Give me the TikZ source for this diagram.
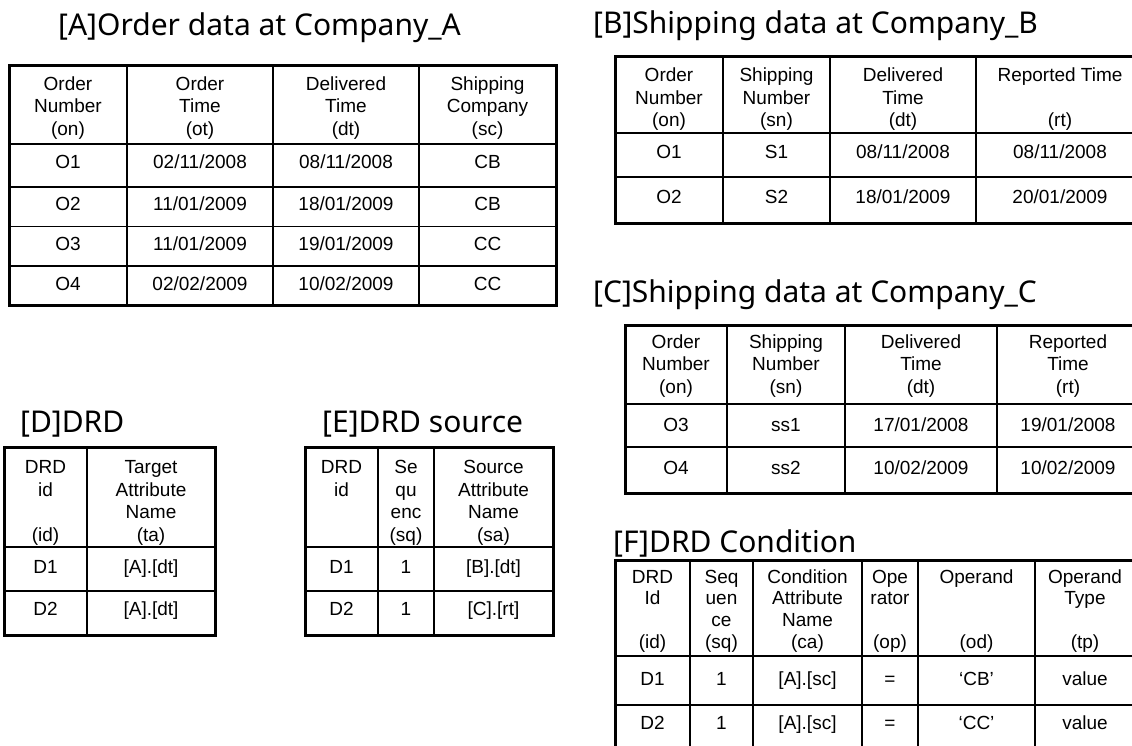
\documentclass[tikz,border=0pt]{standalone}
\usepackage{fontspec}
\setmainfont{Liberation Sans}
\newfontfamily\ttlfont{Noto Sans}
\tikzset{
  cell/.style={font=\fontsize{19}{22.5}\selectfont, align=center, inner sep=0pt, anchor=center, yshift=-2.3pt},
  fcell/.style={cell, font=\fontsize{19}{21.7}\selectfont},
  ttl/.style={font=\ttlfont\fontsize{30}{36}\selectfont, anchor=base west, inner sep=0pt},
  outerline/.style={line width=3pt},
  innerline/.style={line width=1.1pt},
}
\begin{document}
\begin{tikzpicture}[x=1pt,y=-1pt]
\useasboundingbox (0,0) rectangle (1132,746);
\fill[white] (0,0) rectangle (1132,746);
\clip (0,0) rectangle (1132,746);

% ---------- titles ----------
\node[ttl] (tA) at (58,35.5) {[A]Order data at Company\_A};
\node[ttl] (tB) at (593,33.5) {[B]Shipping data at Company\_B};
\node[ttl] (tC) at (593,302) {[C]Shipping data at Company\_C};
\node[ttl] (tD) at (20,432) {[D]DRD};
\node[ttl] (tE) at (322,432) {[E]DRD source};
\node[ttl] (tF) at (613,552) {[F]DRD Condition};

% ---------- table A ----------
\foreach \x in {127,273,419} \draw[innerline] (\x,66) -- (\x,305);
\foreach \y in {144,187,226.5,266} \draw[innerline] (9,\y) -- (556,\y);
\draw[outerline] (9,66) rectangle (556,305);
\node[cell] (A-h1) at (68,106) {\strut Order\\\strut Number\\\strut (on)};
\node[cell] (A-h2) at (200,106) {\strut Order\\\strut Time\\\strut (ot)};
\node[cell] (A-h3) at (346,106) {\strut Delivered\\\strut Time\\\strut (dt)};
\node[cell] (A-h4) at (487.5,106) {\strut Shipping\\\strut Company\\\strut (sc)};
\node[cell] (A-11) at (68,162) {\strut O1};
\node[cell] (A-12) at (200,162) {\strut 02/11/2008};
\node[cell] (A-13) at (346,162) {\strut 08/11/2008};
\node[cell] (A-14) at (487.5,162) {\strut CB};
\node[cell] (A-21) at (68,204) {\strut O2};
\node[cell] (A-22) at (200,204) {\strut 11/01/2009};
\node[cell] (A-23) at (346,204) {\strut 18/01/2009};
\node[cell] (A-24) at (487.5,204) {\strut CB};
\node[cell] (A-31) at (68,243.5) {\strut O3};
\node[cell] (A-32) at (200,243.5) {\strut 11/01/2009};
\node[cell] (A-33) at (346,243.5) {\strut 19/01/2009};
\node[cell] (A-34) at (487.5,243.5) {\strut CC};
\node[cell] (A-41) at (68,283.5) {\strut O4};
\node[cell] (A-42) at (200,283.5) {\strut 02/02/2009};
\node[cell] (A-43) at (346,283.5) {\strut 10/02/2009};
\node[cell] (A-44) at (487.5,283.5) {\strut CC};

% ---------- table B ----------
\foreach \x in {723,830,976} \draw[innerline] (\x,57) -- (\x,223);
\foreach \y in {133,177} \draw[innerline] (615,\y) -- (1144,\y);
\draw[outerline] (615,57) rectangle (1144,223);
\node[cell] (B-h1) at (669,97.5) {\strut Order\\\strut Number\\\strut (on)};
\node[cell] (B-h2) at (776.5,97.5) {\strut Shipping\\\strut Number\\\strut (sn)};
\node[cell] (B-h3) at (903,97.5) {\strut Delivered\\\strut Time\\\strut (dt)};
\node[cell] (B-h4) at (1060,97.5) {\strut Reported Time\\\strut\\\strut (rt)};
\node[cell] (B-11) at (669,152) {\strut O1};
\node[cell] (B-12) at (776.5,152) {\strut S1};
\node[cell] (B-13) at (903,152) {\strut 08/11/2008};
\node[cell] (B-14) at (1060,152) {\strut 08/11/2008};
\node[cell] (B-21) at (669,197) {\strut O2};
\node[cell] (B-22) at (776.5,197) {\strut S2};
\node[cell] (B-23) at (903,197) {\strut 18/01/2009};
\node[cell] (B-24) at (1060,197) {\strut 20/01/2009};

% ---------- table C ----------
\foreach \x in {727,845,997} \draw[innerline] (\x,325) -- (\x,493);
\foreach \y in {404,447} \draw[innerline] (625,\y) -- (1145,\y);
\draw[outerline] (625,325) rectangle (1145,493);
\node[cell] (C-h1) at (676,364) {\strut Order\\\strut Number\\\strut (on)};
\node[cell] (C-h2) at (786,364) {\strut Shipping\\\strut Number\\\strut (sn)};
\node[cell] (C-h3) at (921,364) {\strut Delivered\\\strut Time\\\strut (dt)};
\node[cell] (C-h4) at (1068,364) {\strut Reported\\\strut Time\\\strut (rt)};
\node[cell] (C-11) at (676,425) {\strut O3};
\node[cell] (C-12) at (786,425) {\strut ss1};
\node[cell] (C-13) at (921,425) {\strut 17/01/2008};
\node[cell] (C-14) at (1068,425) {\strut 19/01/2008};
\node[cell] (C-21) at (676,468) {\strut O4};
\node[cell] (C-22) at (786,468) {\strut ss2};
\node[cell] (C-23) at (921,468) {\strut 10/02/2009};
\node[cell] (C-24) at (1068,468) {\strut 10/02/2009};

% ---------- table D ----------
\draw[innerline] (87,447) -- (87,635);
\foreach \y in {547,591} \draw[innerline] (4,\y) -- (215,\y);
\draw[outerline] (4,447) rectangle (215,635);
\node[cell] (D-h1) at (45.5,500.75) {\strut DRD\\\strut id\\\strut\\\strut (id)};
\node[cell] (D-h2) at (151,500.75) {\strut Target\\\strut Attribute\\\strut Name\\\strut (ta)};
\node[cell] (D-11) at (45.5,567) {\strut D1};
\node[cell] (D-12) at (151,567) {\strut [A].[dt]};
\node[cell] (D-21) at (45.5,609) {\strut D2};
\node[cell] (D-22) at (151,609) {\strut [A].[dt]};

% ---------- table E ----------
\foreach \x in {378,434} \draw[innerline] (\x,447) -- (\x,635);
\foreach \y in {547,591} \draw[innerline] (305,\y) -- (553,\y);
\draw[outerline] (305,447) rectangle (553,635);
\node[cell] (E-h1) at (341.5,500.75) {\strut DRD\\\strut id\\\strut\\\strut};
\node[cell] (E-h2) at (406,500.75) {\strut Se\\\strut qu\\\strut enc\\\strut (sq)};
\node[cell] (E-h3) at (493.5,500.75) {\strut Source\\\strut Attribute\\\strut Name\\\strut (sa)};
\node[cell] (E-11) at (341.5,567) {\strut D1};
\node[cell] (E-12) at (406,567) {\strut 1};
\node[cell] (E-13) at (493.5,567) {\strut [B].[dt]};
\node[cell] (E-21) at (341.5,609) {\strut D2};
\node[cell] (E-22) at (406,609) {\strut 1};
\node[cell] (E-23) at (493.5,609) {\strut [C].[rt]};

% ---------- table F ----------
\foreach \x in {690,753,862,918,1035} \draw[innerline] (\x,560) -- (\x,755);
\foreach \y in {656,705} \draw[innerline] (615,\y) -- (1140,\y);
\draw[outerline] (615,560) rectangle (1140,755);
\node[fcell] (F-h1) at (652.5,609) {\strut DRD\\\strut Id\\\strut\\\strut (id)};
\node[fcell] (F-h2) at (721.5,609) {\strut Seq\\\strut uen\\\strut ce\\\strut (sq)};
\node[fcell] (F-h3) at (807.5,609) {\strut Condition\\\strut Attribute\\\strut Name\\\strut (ca)};
\node[fcell] (F-h4) at (890,609) {\strut Ope\\\strut rator\\\strut\\\strut (op)};
\node[fcell] (F-h5) at (976.5,609) {\strut Operand\\\strut\\\strut\\\strut (od)};
\node[fcell] (F-h6) at (1085,609) {\strut Operand\\\strut Type\\\strut\\\strut (tp)};
\node[fcell] (F-11) at (652.5,679) {\strut D1};
\node[fcell] (F-12) at (721.5,679) {\strut 1};
\node[fcell] (F-13) at (807.5,679) {\strut [A].[sc]};
\node[fcell] (F-14) at (890,679) {\strut =};
\node[fcell] (F-15) at (976.5,679) {\strut ‘CB’};
\node[fcell] (F-16) at (1085,679) {\strut value};
\node[fcell] (F-21) at (652.5,723) {\strut D2};
\node[fcell] (F-22) at (721.5,723) {\strut 1};
\node[fcell] (F-23) at (807.5,723) {\strut [A].[sc]};
\node[fcell] (F-24) at (890,723) {\strut =};
\node[fcell] (F-25) at (976.5,723) {\strut ‘CC’};
\node[fcell] (F-26) at (1085,723) {\strut value};
\end{tikzpicture}
\end{document}
